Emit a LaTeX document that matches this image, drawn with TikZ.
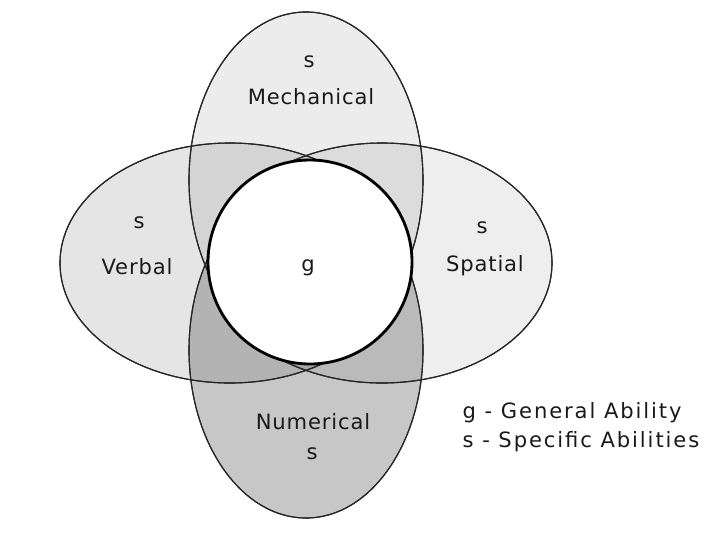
\documentclass[tikz,border=0pt]{standalone}
\usepackage{fontspec}
\setmainfont{DejaVu Sans}[LetterSpace=4]
\usepackage{tikz}

\begin{document}
\begin{tikzpicture}[
  x=0.025cm,y=-0.025cm,
  oval/.style={draw=black!85,line width=0.8pt,fill=black},
  lbl/.style={font=\fontsize{15}{17}\selectfont,text=black!90,inner sep=1pt},
  key/.style={font=\fontsize{15}{17}\selectfont\addfontfeatures{LetterSpace=9},text=black!90,anchor=west,inner sep=1pt}]
\useasboundingbox (0,0) rectangle (720,540);
% four abilities
\fill[oval,fill opacity=0.075] (306,180) ellipse [x radius=117,y radius=168];
\fill[oval,fill opacity=0.10] (230,263) ellipse [x radius=170,y radius=120];
\fill[oval,fill opacity=0.065] (382,263) ellipse [x radius=170,y radius=120];
\fill[oval,fill opacity=0.22] (306,350) ellipse [x radius=117,y radius=168];
\draw[oval,fill=none] (306,180) ellipse [x radius=117,y radius=168];
\draw[oval,fill=none] (230,263) ellipse [x radius=170,y radius=120];
\draw[oval,fill=none] (382,263) ellipse [x radius=170,y radius=120];
\draw[oval,fill=none] (306,350) ellipse [x radius=117,y radius=168];
% general ability
\draw[line width=2pt,fill=white] (310,262) circle [radius=102];
\node[lbl] (g) at (308,268) {g};
\node[lbl] (mechs) at (309,62) {s};
\node[lbl] (mech) at (311,97) {Mechanical};
\node[lbl] (verbs) at (139,223) {s};
\node[lbl] (verb) at (137,267) {Verbal};
\node[lbl] (spats) at (482,228) {s};
\node[lbl] (spat) at (485,266) {Spatial};
\node[lbl] (num) at (313,422) {Numerical};
\node[lbl] (nums) at (312,454) {s};
\node[key] (keyg) at (461,413) {g - General Ability};
\node[key] (keys) at (461,442) {s - Specific Abilities};
\end{tikzpicture}
\end{document}
